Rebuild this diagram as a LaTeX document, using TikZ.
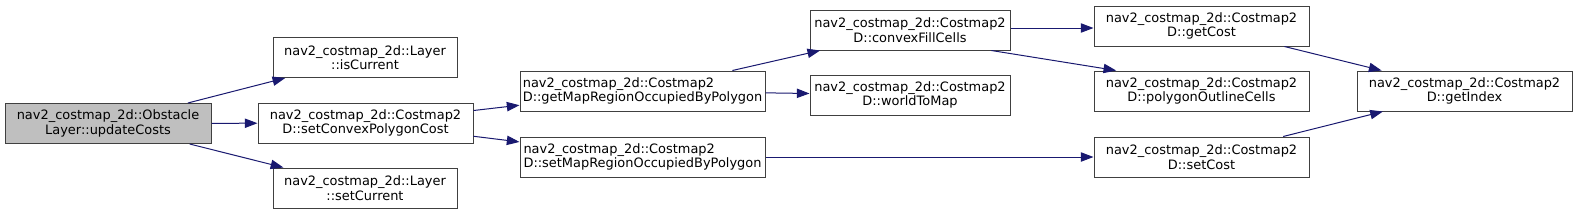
\documentclass[tikz,border=0pt]{standalone}
\usepackage{fontspec}
\setmainfont{DejaVu Sans}
\usetikzlibrary{arrows.meta}

\definecolor{boxgray}{HTML}{404040}
\definecolor{rootgray}{HTML}{BFBFBF}
\definecolor{edgeblue}{HTML}{191970}

\tikzset{
  fn/.style={draw=boxgray, line width=0.75pt, fill=white, minimum height=30pt,
    inner sep=0pt, align=center},
  fnroot/.style={fn, fill=rootgray},
  call/.style={draw=edgeblue, line width=0.75pt,
    -{Triangle[length=9.5pt,width=7pt,fill=edgeblue]}}
}

\begin{document}
\begin{tikzpicture}[x=0.75pt, y=-0.75pt, font=\fontsize{9.7}{10.8}\selectfont]
\def\ns{nav2\_costmap\_2d::}

\fill[white] (0,0) rectangle (1577,215);
\useasboundingbox (0,0) rectangle (1577,215);

% Aanroeper
\node[fnroot, minimum width=154.5pt] (updatecosts) at (108,123.5)
    {\ns Obstacle\\Layer::updateCosts};

% Eerste kolom
\node[fn, minimum width=138pt] (iscurrent) at (365,57.5)
    {\ns Layer\\::isCurrent};
\node[fn, minimum width=161.25pt] (setconvex) at (365.5,123)
    {\ns Costmap2\\D::setConvexPolygonCost};
\node[fn, minimum width=138pt] (setcurrent) at (365,188)
    {\ns Layer\\::setCurrent};

% Tweede kolom
\node[fn, align=left, minimum width=183.75pt] (getmapregion) at (642.5,91)
    {\ns Costmap2\\D::getMapRegionOccupiedByPolygon};
\node[fn, align=left, minimum width=183.75pt] (setmapregion) at (642.5,157)
    {\ns Costmap2\\D::setMapRegionOccupiedByPolygon};

% Derde kolom
\node[fn, minimum width=150pt] (convexfill) at (910,30)
    {\ns Costmap2\\D::convexFillCells};
\node[fn, minimum width=150pt] (worldtomap) at (910,95)
    {\ns Costmap2\\D::worldToMap};

% Vierde kolom
\node[fn, minimum width=161.25pt] (getcost) at (1201.5,26)
    {\ns Costmap2\\D::getCost};
\node[fn, minimum width=161.25pt] (polyoutline) at (1201.5,91)
    {\ns Costmap2\\D::polygonOutlineCells};
\node[fn, minimum width=161.25pt] (setcost) at (1201.5,157)
    {\ns Costmap2\\D::setCost};

% Laatste kolom
\node[fn, minimum width=161.25pt] (getindex) at (1464.5,91)
    {\ns Costmap2\\D::getIndex};

% Aanroepen
\draw[call] (updatecosts) -- (iscurrent);
\draw[call] (updatecosts) -- (setconvex);
\draw[call] (updatecosts) -- (setcurrent);
\draw[call] (setconvex) -- (getmapregion);
\draw[call] (setconvex) -- (setmapregion);
\draw[call] (getmapregion) -- (convexfill);
\draw[call] (getmapregion) -- (worldtomap);
\draw[call] (setmapregion) -- (setcost);
\draw[call] (convexfill.east |- 0,28) -- (getcost.west |- 0,28);
\draw[call] ([xshift=61pt]convexfill.south) -- ([xshift=-64pt]polyoutline.north);
\draw[call] (getcost) -- (getindex);
\draw[call] (setcost) -- (getindex);
\end{tikzpicture}
\end{document}
